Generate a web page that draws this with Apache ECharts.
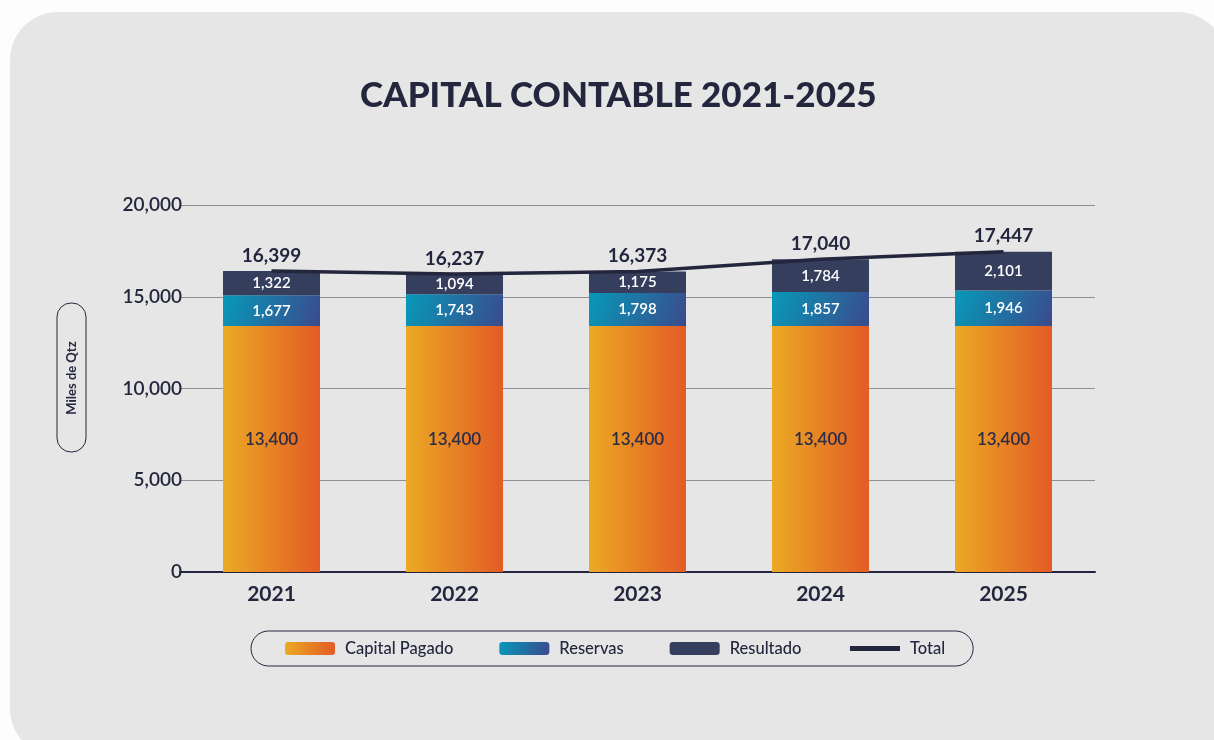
<html>
<head>
<meta charset="utf-8">
<script src="https://cdn.jsdelivr.net/npm/echarts@6/dist/echarts.min.js"></script>
<style>
  html, body { margin: 0; padding: 0; background: #fdfdfd; }
  #container { width: 1214px; height: 740px; }
</style>
</head>
<body>
<div id="container"></div>
<script>
const years = ['2021', '2022', '2023', '2024', '2025'];
const capitalPagado = [13400, 13400, 13400, 13400, 13400];
const reservas = [1677, 1743, 1798, 1857, 1946];
const resultado = [1322, 1094, 1175, 1784, 2101];
const total = [16399, 16237, 16373, 17040, 17447];
const yTicks = { min: 0, max: 20000, interval: 5000 };

const FONT = 'Lato';
const DARK = '#23263d';

function fmt(v) {
  return Number(v).toLocaleString('en-US');
}

let mychart = echarts.init(document.getElementById('container'));

var option = {
  backgroundColor: '#fdfdfd',
  textStyle: { fontFamily: FONT },
  graphic: [
    {
      type: 'rect',
      z: -10,
      silent: true,
      shape: { x: 10, y: 12, width: 1216, height: 745, r: 48 },
      style: { fill: '#e6e6e6' }
    },
    // caja del titulo del eje Y
    {
      type: 'rect',
      silent: true,
      shape: { x: 57, y: 303, width: 29, height: 149, r: 14 },
      style: { fill: 'none', stroke: DARK, lineWidth: 1 }
    },
    {
      type: 'text',
      silent: true,
      x: 71.5,
      y: 378,
      rotation: Math.PI / 2,
      style: {
        text: 'Miles de Qtz', fill: DARK, font: 'bold 13px Lato',
        align: 'center', verticalAlign: 'middle'
      }
    }
  ],
  title: {
    text: 'CAPITAL CONTABLE 2021-2025',
    left: 355,
    top: 73,
    textStyle: { fontFamily: FONT, fontSize: 35, fontWeight: 900, color: DARK }
  },
  legend: {
    bottom: 74,
    left: 251,
    itemWidth: 50,
    itemHeight: 13,
    itemGap: 46,
    padding: [9, 28, 9, 34],
    borderColor: DARK,
    borderWidth: 1,
    borderRadius: 18,
    textStyle: { fontFamily: FONT, fontSize: 16.5, color: DARK, fontWeight: 500, padding: [0, 0, 0, 5] },
    data: [
      'Capital Pagado', 'Reservas', 'Resultado',
      { name: 'Total', itemStyle: { opacity: 0 }, lineStyle: { width: 5 } }
    ]
  },
  grid: { left: 180, right: 119, top: 205, bottom: 168 },
  xAxis: {
    type: 'category',
    data: years,
    axisLine: { lineStyle: { color: DARK, width: 2 } },
    axisTick: { show: false },
    axisLabel: { margin: 12, fontFamily: FONT, fontSize: 21, fontWeight: 'bold', color: DARK }
  },
  yAxis: {
    type: 'value',
    min: yTicks.min,
    max: yTicks.max,
    interval: yTicks.interval,
    axisLine: { show: false },
    axisTick: { show: false },
    splitLine: { lineStyle: { color: '#8d8f98', width: 1 } },
    axisLabel: {
      margin: -2, fontFamily: FONT, fontSize: 19, fontWeight: 600, color: DARK,
      formatter: fmt
    }
  },
  series: [
    {
      name: 'Capital Pagado',
      type: 'bar',
      stack: 'cap',
      barWidth: 97,
      data: capitalPagado,
      itemStyle: {
        color: new echarts.graphic.LinearGradient(0, 0, 1, 0, [
          { offset: 0, color: '#eba924' },
          { offset: 1, color: '#e35b25' }
        ])
      },
      label: {
        show: true, position: 'inside', offset: [0, -10], fontFamily: FONT, fontSize: 17, fontWeight: 600, color: '#2a2d45',
        formatter: p => fmt(p.value)
      }
    },
    {
      name: 'Reservas',
      type: 'bar',
      stack: 'cap',
      data: reservas,
      itemStyle: {
        color: new echarts.graphic.LinearGradient(0, 0, 1, 1, [
          { offset: 0, color: '#0799b8' },
          { offset: 1, color: '#3b4a8d' }
        ])
      },
      label: {
        show: true, position: 'inside', fontFamily: FONT, fontSize: 15, fontWeight: 600, color: '#ffffff',
        formatter: p => fmt(p.value)
      }
    },
    {
      name: 'Resultado',
      type: 'bar',
      stack: 'cap',
      data: resultado,
      itemStyle: { color: '#353e5c' },
      label: {
        show: true, position: 'inside', fontFamily: FONT, fontSize: 15, fontWeight: 600, color: '#ffffff',
        formatter: p => fmt(p.value)
      }
    },
    {
      name: 'Total',
      type: 'line',
      data: total,
      symbol: 'circle',
      symbolSize: 0.1,
      showSymbol: true,
      lineStyle: { color: DARK, width: 3.5 },
      itemStyle: { color: DARK },
      z: 5,
      label: {
        show: true, position: 'top', distance: 6,
        fontFamily: FONT, fontSize: 19, fontWeight: 'bold', color: DARK,
        formatter: p => fmt(p.value)
      }
    }
  ]
};

mychart.setOption(option);
</script>
</body>
</html>
